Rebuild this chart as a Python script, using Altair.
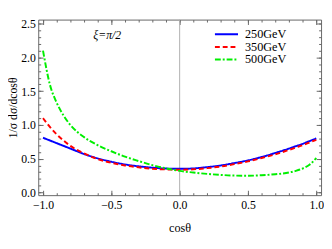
import altair as alt
import pandas as pd

cos_grid = [-1.0, -0.95, -0.9, -0.85, -0.8, -0.7, -0.6, -0.5, -0.4, -0.3, -0.2, -0.1,
            0.0, 0.1, 0.2, 0.3, 0.4, 0.5, 0.6, 0.7, 0.8, 0.85, 0.9, 0.95, 1.0]
v250 = [0.81, 0.77, 0.73, 0.69, 0.65, 0.57, 0.505, 0.455, 0.415, 0.387, 0.367, 0.354,
        0.35, 0.356, 0.375, 0.40, 0.435, 0.475, 0.525, 0.585, 0.65, 0.685, 0.72, 0.76, 0.80]
v350 = [1.10, 0.97, 0.86, 0.77, 0.69, 0.58, 0.495, 0.44, 0.40, 0.372, 0.352, 0.341,
        0.337, 0.343, 0.36, 0.385, 0.42, 0.46, 0.51, 0.565, 0.63, 0.665, 0.70, 0.74, 0.78]
v500 = [2.10, 1.60, 1.33, 1.14, 1.00, 0.82, 0.70, 0.61, 0.53, 0.465, 0.405, 0.357,
        0.32, 0.295, 0.275, 0.26, 0.25, 0.248, 0.255, 0.27, 0.295, 0.32, 0.355, 0.41, 0.51]

series_names = ["250GeV", "350GeV", "500GeV"]
series_colors = ["#0000ff", "#ff0000", "#00ee00"]
series_dash = [[1, 0], [5, 3], [6, 2, 2, 2]]

x_major = [-1.0, -0.5, 0.0, 0.5, 1.0]
x_minor = [round(-1.0 + 0.1 * i, 1) for i in range(21)]
y_major = [0.0, 0.5, 1.0, 1.5, 2.0, 2.5]
y_minor = [round(0.1 * i, 1) for i in range(26)]

note_text = ["ξ=π/2"]
note_cos = [-0.53]
note_val = [2.33]

rows = []
for name, vals in zip(series_names, [v250, v350, v500]):
    for c, v in zip(cos_grid, vals):
        rows.append({"cos": c, "val": v, "series": name})
df = pd.DataFrame(rows)

FONT = "Liberation Serif"
FRAME = "#666666"
xs = alt.Scale(domain=[-1.035, 1.035], nice=False, zero=False)
ys = alt.Scale(domain=[-0.04, 2.56], nice=False, zero=False)

leg = alt.Legend(title=None, orient="none", legendX=180, legendY=10, symbolType="stroke",
                 symbolSize=560, symbolStrokeWidth=2, clipHeight=10, labelFont=FONT,
                 labelFontSize=12.5, labelColor="black", padding=0, rowPadding=0, labelOffset=6)

lines = alt.Chart(df).mark_line(strokeWidth=2, interpolate="monotone").encode(
    x=alt.X("cos:Q", scale=xs, axis=alt.Axis(values=x_major, format=".1f", ticks=False, domain=False,
                                             grid=False, title="cosθ", labelFont=FONT, labelFontSize=12,
                                             labelColor="black", labelPadding=5, titleFont=FONT,
                                             titleFontSize=12.5, titleFontWeight="normal", titleColor="black",
                                             titlePadding=11)),
    y=alt.Y("val:Q", scale=ys, axis=alt.Axis(values=y_major, format=".1f", ticks=False, domain=False,
                                             grid=False, title="1/σ dσ/dcosθ", labelFont=FONT,
                                             labelFontSize=12, labelColor="black", labelPadding=3,
                                             titleFont=FONT, titleFontSize=12, titleFontWeight="normal",
                                             titleColor="black", titlePadding=1)),
    color=alt.Color("series:N", scale=alt.Scale(domain=series_names, range=series_colors), legend=leg),
    strokeDash=alt.StrokeDash("series:N", scale=alt.Scale(domain=series_names, range=series_dash), legend=leg),
)


def tick_layer(xo, yo, xv, yv, size):
    return alt.Chart(df).mark_point(opacity=0).encode(
        x=alt.X("cos:Q", scale=xs, axis=alt.Axis(orient=xo, values=xv, labels=False, domain=False, grid=False,
                                                 title=None, tickSize=size, offset=-size, tickColor=FRAME,
                                                 tickWidth=1)),
        y=alt.Y("val:Q", scale=ys, axis=alt.Axis(orient=yo, values=yv, labels=False, domain=False, grid=False,
                                                 title=None, tickSize=size, offset=-size, tickColor=FRAME,
                                                 tickWidth=1)),
    )


t1 = tick_layer("bottom", "left", x_major, y_major, 5)
t2 = tick_layer("bottom", "left", x_minor, y_minor, 2.5)
t3 = tick_layer("top", "right", x_major, y_major, 5)
t4 = tick_layer("top", "right", x_minor, y_minor, 2.5)

zero_rule = alt.Chart(pd.DataFrame({"cos": [0.0]})).mark_rule(color="#b0b0b0", strokeWidth=1).encode(
    x=alt.X("cos:Q", scale=xs, axis=None))

note = alt.Chart(pd.DataFrame({"cos": note_cos, "val": note_val, "t": note_text})).mark_text(
    font=FONT, fontSize=12, fontStyle="italic", color="black").encode(
    x=alt.X("cos:Q", scale=xs, axis=None), y=alt.Y("val:Q", scale=ys, axis=None), text="t:N")

chart = alt.layer(zero_rule, lines, t1, t2, t3, t4, note).resolve_scale(
    x="shared", y="shared").resolve_axis(x="independent", y="independent").properties(
    width=290, height=180, autosize=alt.AutoSizeParams(type="none"),
    padding={"left": 31, "top": 9, "right": 3, "bottom": 40}
).configure_view(stroke=FRAME, strokeWidth=1)

chart.save("out.html", embed_options={"renderer": "svg", "actions": False})
